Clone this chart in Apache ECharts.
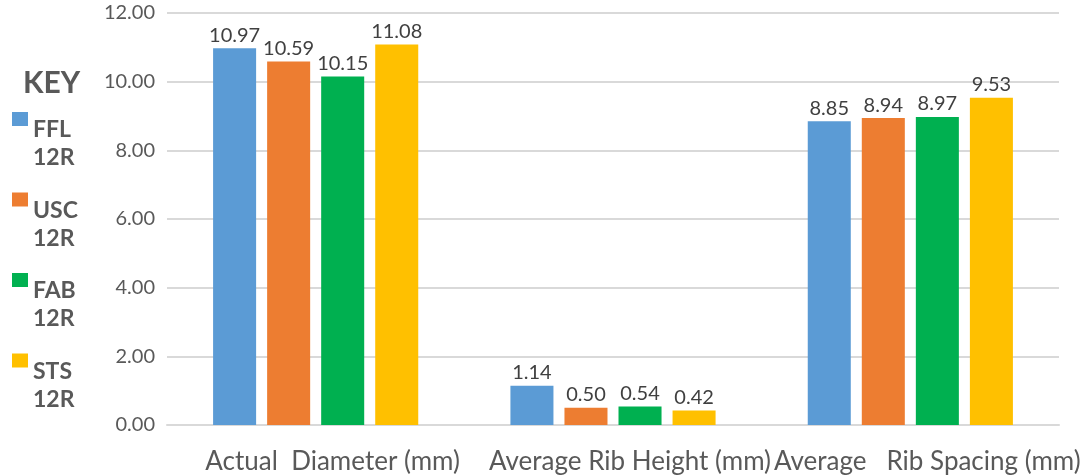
<!DOCTYPE html>
<html>
<head>
<meta charset="utf-8">
<script src="https://cdn.jsdelivr.net/npm/echarts@6/dist/echarts.min.js"></script>
<style>
  html, body { margin: 0; padding: 0; background: #fff; }
  #chart { width: 1090px; height: 475px; }
</style>
</head>
<body>
<div id="chart"></div>
<script>
// Rebar measurements for four 12R bar sources
const categories = ['Actual  Diameter (mm)', 'Average Rib Height (mm)', 'Average   Rib Spacing (mm)'];
const seriesNames = ['FFL 12R', 'USC 12R', 'FAB 12R', 'STS 12R'];
const ffl = [10.97, 1.14, 8.85];
const usc = [10.59, 0.50, 8.94];
const fab = [10.15, 0.54, 8.97];
const sts = [11.08, 0.42, 9.53];
const yTicks = [0, 2, 4, 6, 8, 10, 12];

const colors = ['#5B9BD5', '#ED7D31', '#00B050', '#FFC000'];
const values = [ffl, usc, fab, sts];
const FONT = 'Lato, "Open Sans", sans-serif';

const chart = echarts.init(document.getElementById('chart'), null, { renderer: 'canvas' });

chart.setOption({
  animation: false,
  backgroundColor: '#ffffff',
  color: colors,
  title: {
    text: 'KEY',
    left: 23,
    top: 68,
    padding: 0,
    textStyle: { fontFamily: FONT, fontSize: 30, fontWeight: 'bold', color: '#595959' }
  },
  legend: {
    orient: 'vertical',
    left: 12,
    top: 66,
    padding: 0,
    itemWidth: 16,
    itemHeight: 14,
    itemGap: -23,
    icon: 'rect',
    data: seriesNames,
    // two-line label, swatch sitting beside the first line
    formatter: name => {
      const [a, b] = name.split(' ');
      return '{s| }\n{t|' + a + '}\n{t|' + b + '}';
    },
    textStyle: {
      rich: {
        s: { fontSize: 10, lineHeight: 50, height: 50 },
        t: {
          fontFamily: FONT,
          fontSize: 23,
          fontWeight: 'bold',
          color: '#595959',
          lineHeight: 28
        }
      }
    }
  },
  grid: { left: 167, right: 31, top: 13, bottom: 50, containLabel: false },
  xAxis: {
    type: 'category',
    data: categories,
    axisLine: { show: true, lineStyle: { color: '#d9d9d9', width: 2 } },
    axisTick: { show: false },
    axisLabel: {
      interval: 0,
      hideOverlap: false,
      margin: 24,
      padding: [0, 0, 0, 34],
      fontFamily: FONT,
      fontSize: 26,
      color: '#595959'
    }
  },
  yAxis: {
    type: 'value',
    min: yTicks[0],
    max: yTicks[yTicks.length - 1],
    interval: 2,
    axisLine: { show: false },
    axisTick: { show: false },
    splitLine: { lineStyle: { color: '#d9d9d9', width: 2 } },
    axisLabel: {
      margin: 12,
      fontFamily: FONT,
      fontSize: 20,
      color: '#595959',
      formatter: v => v.toFixed(2)
    }
  },
  series: seriesNames.map((name, i) => ({
    name: name,
    type: 'bar',
    data: values[i],
    barGap: '25.6%',
    barCategoryGap: '31%',
    itemStyle: { color: colors[i] },
    label: {
      show: true,
      position: 'top',
      distance: 3,
      fontFamily: FONT,
      fontSize: 20,
      color: '#404040',
      formatter: p => p.value.toFixed(2)
    }
  }))
});
</script>
</body>
</html>
